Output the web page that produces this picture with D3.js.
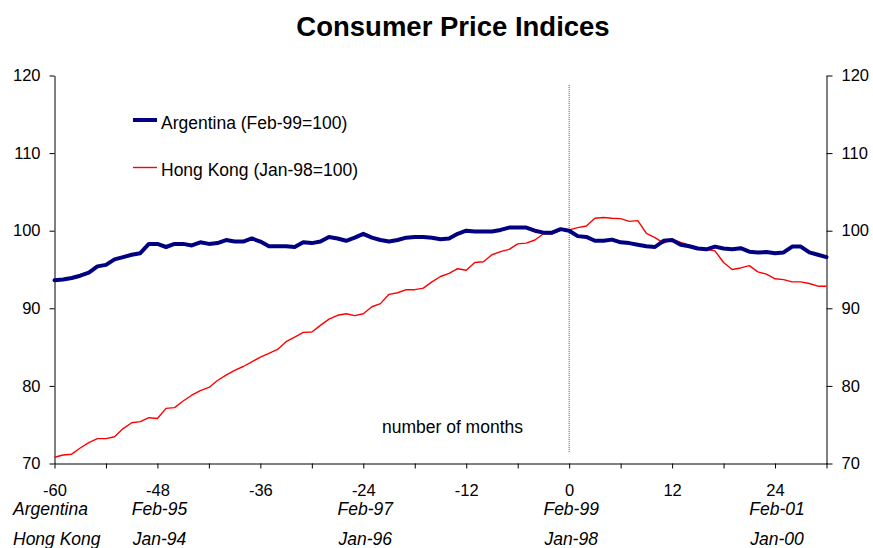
<!DOCTYPE html>
<html>
<head>
<meta charset="utf-8">
<script src="https://cdn.jsdelivr.net/npm/d3@7"></script>
<style>
  html, body { margin: 0; padding: 0; background: #fff; }
  svg { display: block; font-family: "Liberation Sans", Arial, sans-serif; }
</style>
</head>
<body>
<svg id="chart" width="873" height="548"></svg>
<script>
// ---- Data ----
const months = d3.range(-60, 31); // -60 .. 30
const argentina = [
  93.6, 93.7, 93.9, 94.2, 94.6, 95.4, 95.6, 96.3, 96.6, 96.9,
  97.1, 98.3, 98.3, 97.9, 98.3, 98.3, 98.1, 98.5, 98.3, 98.4,
  98.8, 98.6, 98.6, 99.0, 98.6, 98.0, 98.0, 98.0, 97.9, 98.5,
  98.4, 98.6, 99.2, 99.0, 98.7, 99.1, 99.6, 99.1, 98.8, 98.6,
  98.8, 99.1, 99.2, 99.2, 99.1, 98.9, 99.0, 99.6, 100.0, 99.9,
  99.9, 99.9, 100.1, 100.4, 100.4, 100.4, 100.0, 99.75, 99.75, 100.2,
  100.0, 99.3, 99.2, 98.7, 98.7, 98.85, 98.5, 98.4, 98.2, 98.0,
  97.9, 98.7, 98.8, 98.2, 98.0, 97.7, 97.6, 97.95, 97.7, 97.6,
  97.75, 97.3, 97.2, 97.25, 97.1, 97.2, 97.95, 97.95, 97.2, 96.9,
  96.6
];
const hongKong = [
  70.8, 71.1, 71.2, 72.0, 72.7, 73.2, 73.2, 73.45, 74.5, 75.25,
  75.4, 75.9, 75.8, 77.1, 77.2, 78.05, 78.8, 79.4, 79.8, 80.7,
  81.4, 82.0, 82.5, 83.1, 83.7, 84.2, 84.7, 85.7, 86.3, 86.9,
  86.95, 87.8, 88.6, 89.1, 89.3, 89.05, 89.3, 90.2, 90.6, 91.8,
  92.0, 92.4, 92.4, 92.6, 93.4, 94.1, 94.5, 95.1, 94.9, 95.9,
  96.0, 96.9, 97.3, 97.6, 98.3, 98.4, 98.8, 99.6, 99.6, 100.05,
  100.1, 100.4, 100.6, 101.6, 101.7, 101.6, 101.55, 101.2, 101.3, 99.65,
  99.1, 98.4, 98.9, 98.5, 98.15, 97.8, 97.6, 97.4, 95.9, 95.0,
  95.2, 95.5, 94.7, 94.4, 93.8, 93.7, 93.4, 93.4, 93.2, 92.85,
  92.85
];
const xTickValues = d3.range(-60, 31, 6);
const xLabelValues = [-60, -48, -36, -24, -12, 0, 12, 24];
const yTickValues = [70, 80, 90, 100, 110, 120];
const dateTickMonths = [-48, -24, 0, 24];
const argentinaDates = ["Feb-95", "Feb-97", "Feb-99", "Feb-01"];
const hongKongDates = ["Jan-94", "Jan-96", "Jan-98", "Jan-00"];
const seriesNames = ["Argentina (Feb-99=100)", "Hong Kong (Jan-98=100)"];
const rowLabels = ["Argentina", "Hong Kong"];
const titleText = "Consumer Price Indices";
const annotationText = "number of months";

// ---- Scales ----
const svg = d3.select("#chart");
const x = d3.scaleLinear().domain([-60, 30]).range([54.5, 826.5]);
const y = d3.scaleLinear().domain([70, 120]).range([463.5, 75.5]);

// Title
svg.append("text")
  .attr("x", 453).attr("y", 35.5)
  .attr("text-anchor", "middle")
  .attr("font-size", "27.5px").attr("font-weight", "bold")
  .attr("fill", "#000")
  .text(titleText);

// Axes
const axisStyle = g => {
  g.selectAll("path.domain").attr("stroke", "#000").attr("stroke-width", 1);
  g.selectAll(".tick line").attr("stroke", "#000").attr("stroke-width", 1);
  g.selectAll(".tick text").attr("fill", "#000").attr("font-size", "16.5px")
    .attr("font-family", "'Liberation Sans', Arial, sans-serif");
};

svg.append("g")
  .attr("transform", `translate(0,${y(70)})`)
  .call(d3.axisBottom(x).tickValues(xTickValues).tickSize(5).tickSizeOuter(0)
    .tickPadding(16)
    .tickFormat(d => xLabelValues.includes(d) ? String(d) : ""))
  .call(axisStyle);

svg.append("g")
  .attr("transform", `translate(${x(-60)},0)`)
  .call(d3.axisLeft(y).tickValues(yTickValues).tickSize(5).tickSizeOuter(0).tickPadding(9)
    .tickFormat(d => String(d)))
  .call(axisStyle);

svg.append("g")
  .attr("transform", `translate(${x(30)},0)`)
  .call(d3.axisRight(y).tickValues(yTickValues).tickSize(6).tickSizeOuter(0).tickPadding(9)
    .tickFormat(d => String(d)))
  .call(axisStyle);

// Vertical dotted line at month 0
svg.append("line")
  .attr("x1", x(0)).attr("x2", x(0))
  .attr("y1", 85).attr("y2", 452)
  .attr("stroke", "#555").attr("stroke-width", 1)
  .attr("stroke-dasharray", "1,1");

// Lines
const line = d3.line().x((d, i) => x(months[i])).y(d => y(d));

svg.append("path")
  .datum(hongKong)
  .attr("d", line)
  .attr("fill", "none").attr("stroke", "#ff0000").attr("stroke-width", 1.4)
  .attr("stroke-linejoin", "round");

svg.append("path")
  .datum(argentina)
  .attr("d", line)
  .attr("fill", "none").attr("stroke", "#000080").attr("stroke-width", 4)
  .attr("stroke-linejoin", "round").attr("stroke-linecap", "round");

// Legend
const legend = [
  { name: seriesNames[0], color: "#000080", width: 4, ly: 120, ty: 129 },
  { name: seriesNames[1], color: "#ff0000", width: 1.4, ly: 167.5, ty: 175.5 }
];
legend.forEach(l => {
  svg.append("line")
    .attr("x1", 133).attr("x2", 157).attr("y1", l.ly).attr("y2", l.ly)
    .attr("stroke", l.color).attr("stroke-width", l.width);
  svg.append("text")
    .attr("x", 161).attr("y", l.ty)
    .attr("font-size", "17.5px").attr("fill", "#000")
    .text(l.name);
});

// Annotation
svg.append("text")
  .attr("x", 452.5).attr("y", 432.5)
  .attr("text-anchor", "middle")
  .attr("font-size", "17.5px").attr("fill", "#000")
  .text(annotationText);

// Date rows
const rowY = [515, 545];
[argentinaDates, hongKongDates].forEach((labels, r) => {
  svg.append("text")
    .attr("x", 13).attr("y", rowY[r])
    .attr("font-size", "17.5px").attr("font-style", "italic").attr("fill", "#000")
    .text(rowLabels[r]);
  svg.selectAll(null)
    .data(dateTickMonths)
    .enter().append("text")
    .attr("x", d => x(d) + 2)
    .attr("y", rowY[r])
    .attr("text-anchor", "middle")
    .attr("font-size", "17.5px").attr("font-style", "italic").attr("fill", "#000")
    .text((d, i) => labels[i]);
});
</script>
</body>
</html>
